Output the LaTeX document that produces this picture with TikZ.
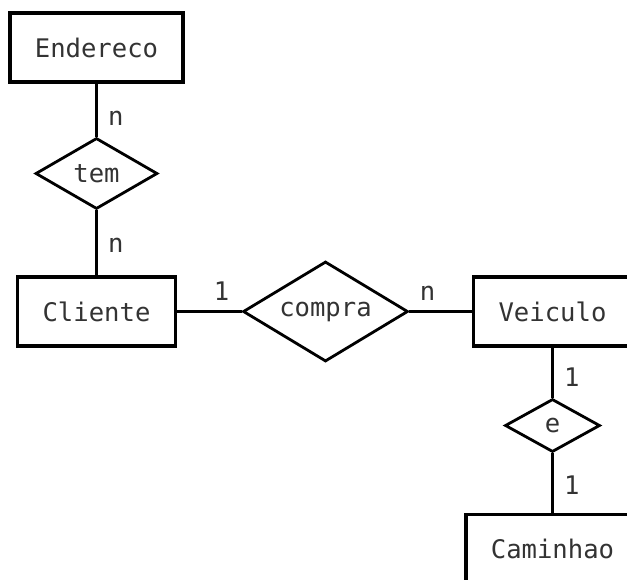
\documentclass[tikz,border=0pt]{standalone}
\usepackage{fontspec}
\setmonofont{DejaVu Sans Mono}
\usetikzlibrary{shapes.geometric, positioning}

\begin{document}
\begin{tikzpicture}[font=\ttfamily\fontsize{12.8}{15}\selectfont, text=black!80, auto,
    entity/.style={draw=black, line width=1.8pt, inner xsep=12.5pt, minimum height=34.5pt},
    relation/.style={draw=black, diamond, aspect=1.7, line width=1.4pt, inner sep=0pt},
    card/.style={inner sep=5pt}]
    \useasboundingbox (-48.25pt,-133.75pt) rectangle (265.25pt,155.75pt);
    \clip (-48.25pt,-133.75pt) rectangle (265.25pt,155.75pt);

    \node[entity] (cliente) {Cliente};
    \node[relation, minimum width=61pt, minimum height=35.5pt] (tem) [above of=cliente, node distance=69pt] {tem};
    \node[entity] (endereco) [above of=tem, node distance=63pt] {Endereco};
    \node[relation, minimum width=82.5pt, minimum height=50pt] (compra) [right of=cliente, node distance=114.5pt] {compra};
    \node[entity] (veiculo) [right of=compra, node distance=113.5pt] {Veiculo};
    \node[relation, minimum width=47.5pt, minimum height=26.5pt] (e) [below of=veiculo, node distance=57pt] {e};
    \node[entity] (caminhao) [below of=e, node distance=61.75pt] {Caminhao};

    \path[draw=black, line width=1.5pt]
    (endereco) edge node[card, pos=0.65] {n} (tem)
    (tem) edge node[card, pos=0.54] {n} (cliente)
    (cliente) edge node[card, pos=0.69] {1} (compra)
    (compra) edge node[card, pos=0.29] {n} (veiculo)
    (veiculo) edge node[card, pos=0.58] {1} (e)
    (e) edge node[card, pos=0.54] {1} (caminhao);
\end{tikzpicture}
\end{document}
